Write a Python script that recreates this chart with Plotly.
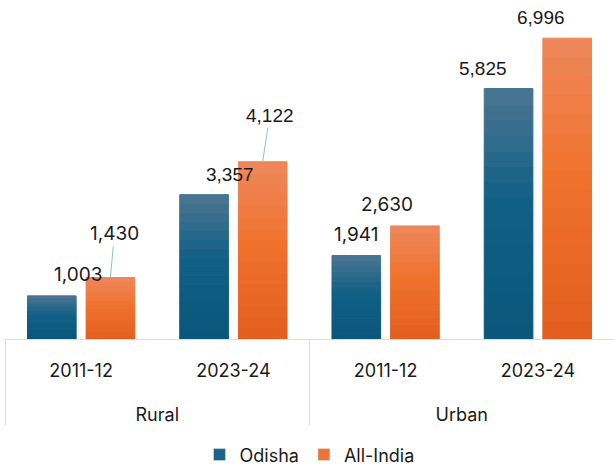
import plotly.graph_objects as go

# ---- data ----
regions = ["Rural", "Rural", "Urban", "Urban"]
periods = ["2011-12", "2023-24", "2011-12", "2023-24"]
odisha = [1003, 3357, 1941, 5825]
all_india = [1430, 4122, 2630, 6996]
series_names = ["Odisha", "All-India"]

# ---- style ----
GEO = "Inter"
ARIAL = "Liberation Sans"
N_SEG = 16
BARGAP = 0.23
grad = {
    "Odisha": [(0.0, (11, 86, 123)), (0.55, (16, 95, 133)), (1.0, (75, 118, 146))],
    "All-India": [(0.0, (226, 94, 30)), (0.55, (240, 114, 45)), (1.0, (238, 136, 92))],
}
legend_color = {"Odisha": "#1f6288", "All-India": "#ec7436"}
line_col = "#cfe0f1"

SPAN = "<span style='font-size:18px'>{}</span>"
group_labels = ["<br>" + SPAN.format(r) for r in regions]
period_labels = [SPAN.format(p) for p in periods]


def color_at(stops, t):
    for (t0, c0), (t1, c1) in zip(stops[:-1], stops[1:]):
        if t <= t1:
            f = (t - t0) / (t1 - t0)
            return "rgb(%d,%d,%d)" % tuple(round(a + (b - a) * f) for a, b in zip(c0, c1))
    return "rgb(%d,%d,%d)" % stops[-1][1]


fig = go.Figure()
for name, vals in zip(series_names, [odisha, all_india]):
    for j in range(N_SEG):
        t = (j + 0.5) / N_SEG
        c = color_at(grad[name], t)
        fig.add_trace(go.Bar(
            x=[group_labels, period_labels],
            y=[v / N_SEG for v in vals],
            name=name,
            offsetgroup=name,
            legendgroup=name,
            showlegend=False,
            marker=dict(color=c, line=dict(width=1, color=c)),
            hoverinfo="skip",
        ))
    # legend entry
    fig.add_trace(go.Bar(
        x=[group_labels, period_labels], y=[None] * 4, name=name, offsetgroup=name,
        legendgroup=name, marker=dict(color=legend_color[name]), showlegend=True,
    ))

# ---- labels ----
slot = (1 - BARGAP) / 2
annotations = []
for k, (name, vals) in enumerate(zip(series_names, [odisha, all_india])):
    off = -slot / 2 if k == 0 else slot / 2
    for i, v in enumerate(vals):
        xp = (i + off + 0.5) / 4
        fam = ARIAL if periods[i] == "2023-24" else GEO
        txt = f"{v:,}"
        if name == "All-India" and regions[i] == "Rural":
            annotations.append(dict(
                x=xp, y=v, xref="paper", yref="y", text=txt, showarrow=True,
                arrowhead=0, arrowwidth=1, arrowcolor="#8dbde8",
                ax=4 if i == 0 else 7, ay=-44 if i == 0 else -46,
                font=dict(family=fam, size=19, color="#1a1a1a"),
            ))
        else:
            annotations.append(dict(
                x=xp, y=v, xref="paper", yref="y", text=txt, showarrow=False,
                yanchor="bottom", yshift=8,
                font=dict(family=fam, size=19, color="#1a1a1a"),
            ))

fig.update_layout(
    width=614, height=469,
    margin=dict(l=5, r=0, t=5, b=130, autoexpand=False),
    barmode="relative",
    bargap=BARGAP,
    bargroupgap=0.17,
    plot_bgcolor="white", paper_bgcolor="white",
    font=dict(family=GEO, size=18, color="#1a1a1a"),
    showlegend=True,
    legend=dict(orientation="h", x=0.5, xanchor="center", y=-0.347, yanchor="middle",
                font=dict(family=GEO, size=18, color="#1a1a1a"), traceorder="normal"),
    annotations=annotations,
    xaxis=dict(type="multicategory", range=[-0.5, 3.5], showline=True, linecolor=line_col,
               linewidth=1, showdividers=True, dividercolor=line_col, dividerwidth=1,
               automargin=False, ticklabelstandoff=9,
               tickfont=dict(family=GEO, size=23, color="#1a1a1a"), showgrid=False),
    yaxis=dict(visible=False, range=[0, 7767], showgrid=False, zeroline=False, automargin=False),
)

fig.write_html("out.html", config={"displayModeBar": False},
               post_script="document.body.style.margin='0';")
